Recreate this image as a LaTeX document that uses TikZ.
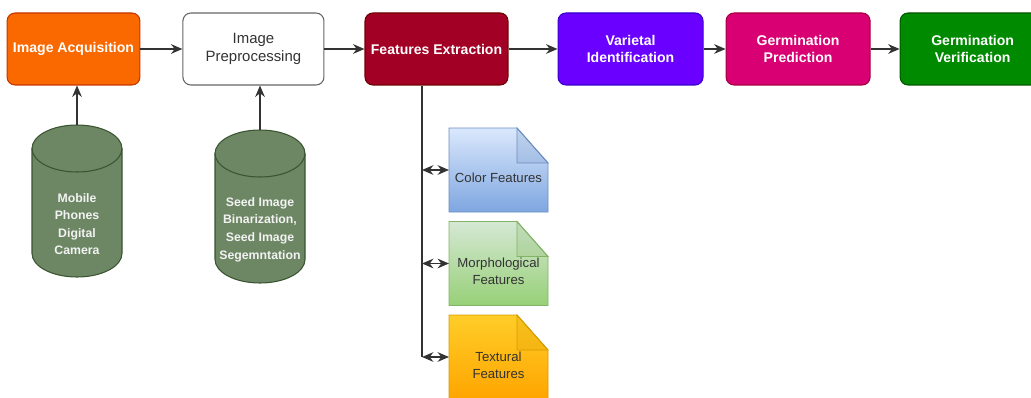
\documentclass[tikz,border=0pt]{standalone}
\usepackage{fontspec}
\setmainfont{Liberation Sans}
\usepackage{tikz}
\usetikzlibrary{arrows.meta,positioning,backgrounds}

\definecolor{acqfill}{HTML}{FA6800}
\definecolor{acqedge}{HTML}{C73500}
\definecolor{featfill}{HTML}{A20025}
\definecolor{featedge}{HTML}{6F0000}
\definecolor{varfill}{HTML}{6A00FF}
\definecolor{varedge}{HTML}{3700CC}
\definecolor{predfill}{HTML}{D80073}
\definecolor{prededge}{HTML}{A50040}
\definecolor{verfill}{HTML}{008A00}
\definecolor{veredge}{HTML}{005700}
\definecolor{storegreen}{HTML}{6D8764}
\definecolor{storeedge}{HTML}{3A5431}
\definecolor{blueA}{HTML}{DAE8FC}
\definecolor{blueB}{HTML}{7EA6E0}
\definecolor{blueE}{HTML}{6C8EBF}
\definecolor{greenA}{HTML}{D5E8D4}
\definecolor{greenB}{HTML}{97D077}
\definecolor{greenE}{HTML}{82B366}
\definecolor{yellowA}{HTML}{FFCD28}
\definecolor{yellowB}{HTML}{FFA500}
\definecolor{yellowE}{HTML}{D79B00}

\begin{document}
\begin{tikzpicture}[>={Stealth[length=6.5pt,width=5.5pt]}, node distance=0.84cm,
  stage/.style={rectangle, rounded corners=4.5pt, minimum height=1.44cm, align=center,
    font=\fontsize{8}{10}\selectfont\bfseries, text=white, line width=0.6pt},
  store/.style={minimum width=1.8cm, outer sep=0pt},
  storetext/.style={yshift=-0.46cm, align=center, text=white!95!black,
    font=\fontsize{7}{10}\selectfont\bfseries},
  docnote/.style={minimum width=1.98cm, minimum height=1.68cm, outer sep=0pt},
  doctext/.style={yshift=-0.16cm, align=center, text=black!80,
    font=\fontsize{7.5}{9.5}\selectfont},
  flow/.style={->, line width=0.75pt, draw=black!80}]

  \useasboundingbox (0,0) rectangle (20.62,-7.94);

  % Stages
  \node[stage, fill=acqfill, draw=acqedge, minimum width=2.62cm] (acq) at (1.47,-0.98) {Image Acquisition};
  \node[stage, fill=white, draw=black!60, text=black!80, font=\fontsize{8.5}{10}\selectfont,
    minimum width=2.82cm] (prep) [right=0.84cm of acq] {Image\\Preprocessing};
  \node[stage, fill=featfill, draw=featedge, minimum width=2.8cm] (feat) [right=0.8cm of prep] {Features Extraction};
  \node[stage, fill=varfill, draw=varedge, minimum width=2.9cm] (vari) [right=0.98cm of feat] {Varietal\\Identification};
  \node[stage, fill=predfill, draw=prededge, minimum width=2.88cm] (pred) [right=0.44cm of vari] {Germination\\Prediction};
  \node[stage, fill=verfill, draw=veredge, minimum width=2.9cm] (verif) [right=0.58cm of pred] {Germination\\Verification};

  % Stores
  \node[store, minimum height=3.04cm, label={[storetext]center:Mobile\\Phones\\Digital\\Camera}] (phone) at (1.54,-4.02) {};
  \node[store, minimum height=3.06cm, label={[storetext]center:Seed Image\\Binarization,\\Seed Image\\Segemntation}] (binar) at (5.2,-4.13) {};

  % Features
  \node[docnote, label={[doctext]center:Color Features}] (colorf) at (9.97,-3.4) {};
  \node[docnote, label={[doctext]center:Morphological\\Features}] (morph) at (9.97,-5.27) {};
  \node[docnote, label={[doctext]center:Textural\\Features}] (textur) at (9.97,-7.14) {};
  \coordinate (trunk) at (8.44,-7.14);

  \begin{scope}[on background layer]
    \foreach \c in {phone, binar} {
      \filldraw[fill=storegreen, draw=storeedge, line width=0.6pt]
        ([yshift=-0.47cm]\c.north west) -- ([yshift=0.47cm]\c.south west)
        arc[start angle=180, end angle=360, x radius=0.9cm, y radius=0.47cm]
        -- ([yshift=-0.47cm]\c.north east)
        arc[start angle=0, end angle=180, x radius=0.9cm, y radius=0.47cm] -- cycle;
      \draw[storeedge, line width=0.6pt] ([yshift=-0.47cm]\c.north east)
        arc[start angle=0, end angle=-180, x radius=0.9cm, y radius=0.47cm];
    }
    \foreach \d/\ca/\cb/\ce in {colorf/blueA/blueB/blueE, morph/greenA/greenB/greenE, textur/yellowA/yellowB/yellowE} {
      \shadedraw[top color=\ca, bottom color=\cb, draw=\ce, line width=0.5pt]
        (\d.north west) -- ([xshift=-0.62cm]\d.north east) -- ([yshift=-0.7cm]\d.north east)
        -- (\d.south east) -- (\d.south west) -- cycle;
      \filldraw[fill=\ce, fill opacity=0.22, draw=\ce, line width=0.5pt]
        ([xshift=-0.62cm]\d.north east) -- ([xshift=-0.62cm,yshift=-0.7cm]\d.north east)
        -- ([yshift=-0.7cm]\d.north east) -- cycle;
    }
  \end{scope}

  % Flow
  \draw[flow] (acq) -- (prep);
  \draw[flow] (prep) -- (feat);
  \draw[flow] (feat) -- (vari);
  \draw[flow] (vari) -- (pred);
  \draw[flow] (pred) -- (verif);
  \draw[flow] (phone.north) -- (phone.north |- acq.south);
  \draw[flow] (binar.north) -- (binar.north |- prep.south);
  \draw[line width=0.75pt, draw=black!80] (trunk |- feat.south) -- (trunk);
  \foreach \d in {colorf, morph, textur}
    \draw[flow, <->] (\d.west -| trunk) -- (\d.west);
\end{tikzpicture}
\end{document}
